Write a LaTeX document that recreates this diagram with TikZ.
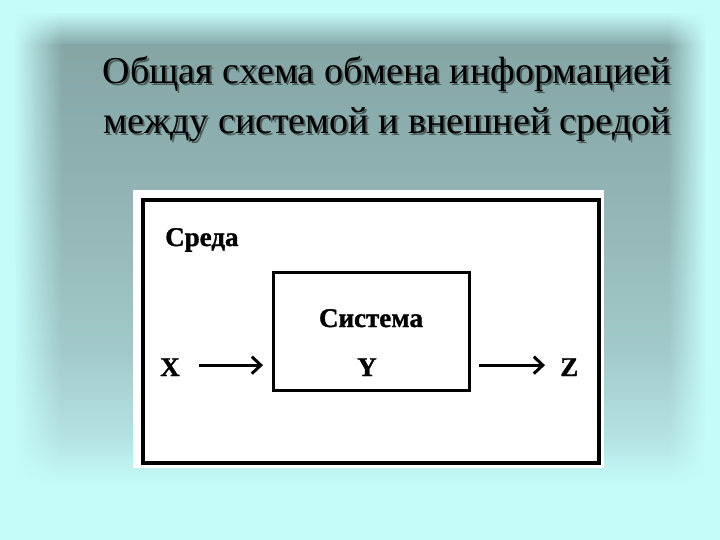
\documentclass[tikz,border=0pt]{standalone}
\usepackage{fontspec}
\setmainfont{Liberation Serif}
\newfontfamily\heavyfont{Liberation Serif}[BoldFeatures={FakeBold=1.2}]
\usetikzlibrary{arrows.meta,fadings}
\definecolor{bglight}{HTML}{C4FCFA}
\definecolor{bgA}{HTML}{86A6A6}
\definecolor{bgB}{HTML}{92B4B4}
\definecolor{bgC}{HTML}{A2C9C9}
\definecolor{bgD}{HTML}{B5E4E2}
\definecolor{shadowc}{HTML}{4A5E5E}
\tikzfading[name=fadeL, left color=transparent!0, right color=transparent!100]
\tikzfading[name=fadeR, left color=transparent!100, right color=transparent!0]
\tikzset{
  titletext/.style={font=\fontsize{38}{44}\selectfont, inner sep=0pt, anchor=base},
  lbl/.style={font=\fontsize{27}{30}\selectfont\heavyfont\bfseries, inner sep=0pt},
  arr/.style={line width=3pt, -{Straight Barb[length=9pt,width=17pt,line width=3pt]}},
}
\begin{document}
\begin{tikzpicture}[x=1pt,y=-1pt]
\useasboundingbox (0,0) rectangle (720,540);
% background
\fill[bglight] (0,0) rectangle (720,540);
\shade[top color=bglight, bottom color=bgA] (0,12) rectangle (720,45.5);
\shade[top color=bgA, bottom color=bgB] (0,45) rectangle (720,200.5);
\shade[top color=bgB, bottom color=bgC] (0,200) rectangle (720,350.5);
\shade[top color=bgC, bottom color=bgD] (0,350) rectangle (720,440.5);
\shade[top color=bgD, bottom color=bglight] (0,440) rectangle (720,485);
\fill[bglight] (0,0) rectangle (14,540);
\fill[bglight, path fading=fadeL] (13.5,0) rectangle (62,540);
\fill[bglight] (706,0) rectangle (720,540);
\fill[bglight, path fading=fadeR] (668,0) rectangle (706.5,540);
% title
\node[titletext, text=shadowc] (t1s) at (389,86) {Общая схема обмена информацией};
\node[titletext, text=shadowc] (t2s) at (389,136) {между системой и внешней средой};
\node[titletext] (t1) at (387,84) {Общая схема обмена информацией};
\node[titletext] (t2) at (387,134) {между системой и внешней средой};
% picture area
\fill[white] (133,190) rectangle (604,468);
\node[draw, line width=3.2pt, inner sep=0pt, outer sep=0pt, minimum width=456pt, minimum height=263pt] (env) at (371,331.5) {};
\node[draw, line width=3pt, inner sep=0pt, outer sep=0pt, minimum width=196pt, minimum height=118pt] (sys) at (371,331) {};
\node[lbl, anchor=base west] (sreda) at (165,246) {Среда};
\node[lbl, anchor=base] (sistema) at (371,327) {Система};
\node[lbl, anchor=base] (Y) at (367,376) {Y};
\node[lbl, anchor=base west] (X) at (160,376) {X};
\node[lbl, anchor=base west] (Z) at (560,376) {Z};
\draw[arr, shorten <=19pt, shorten >=10pt] ([yshift=2pt]X.east) -- ([yshift=2pt]X.east -| sys.west);
\draw[arr, shorten <=10pt, shorten >=15pt] ([yshift=2pt]Z.west -| sys.east) -- ([yshift=2pt]Z.west);
\end{tikzpicture}
\end{document}
